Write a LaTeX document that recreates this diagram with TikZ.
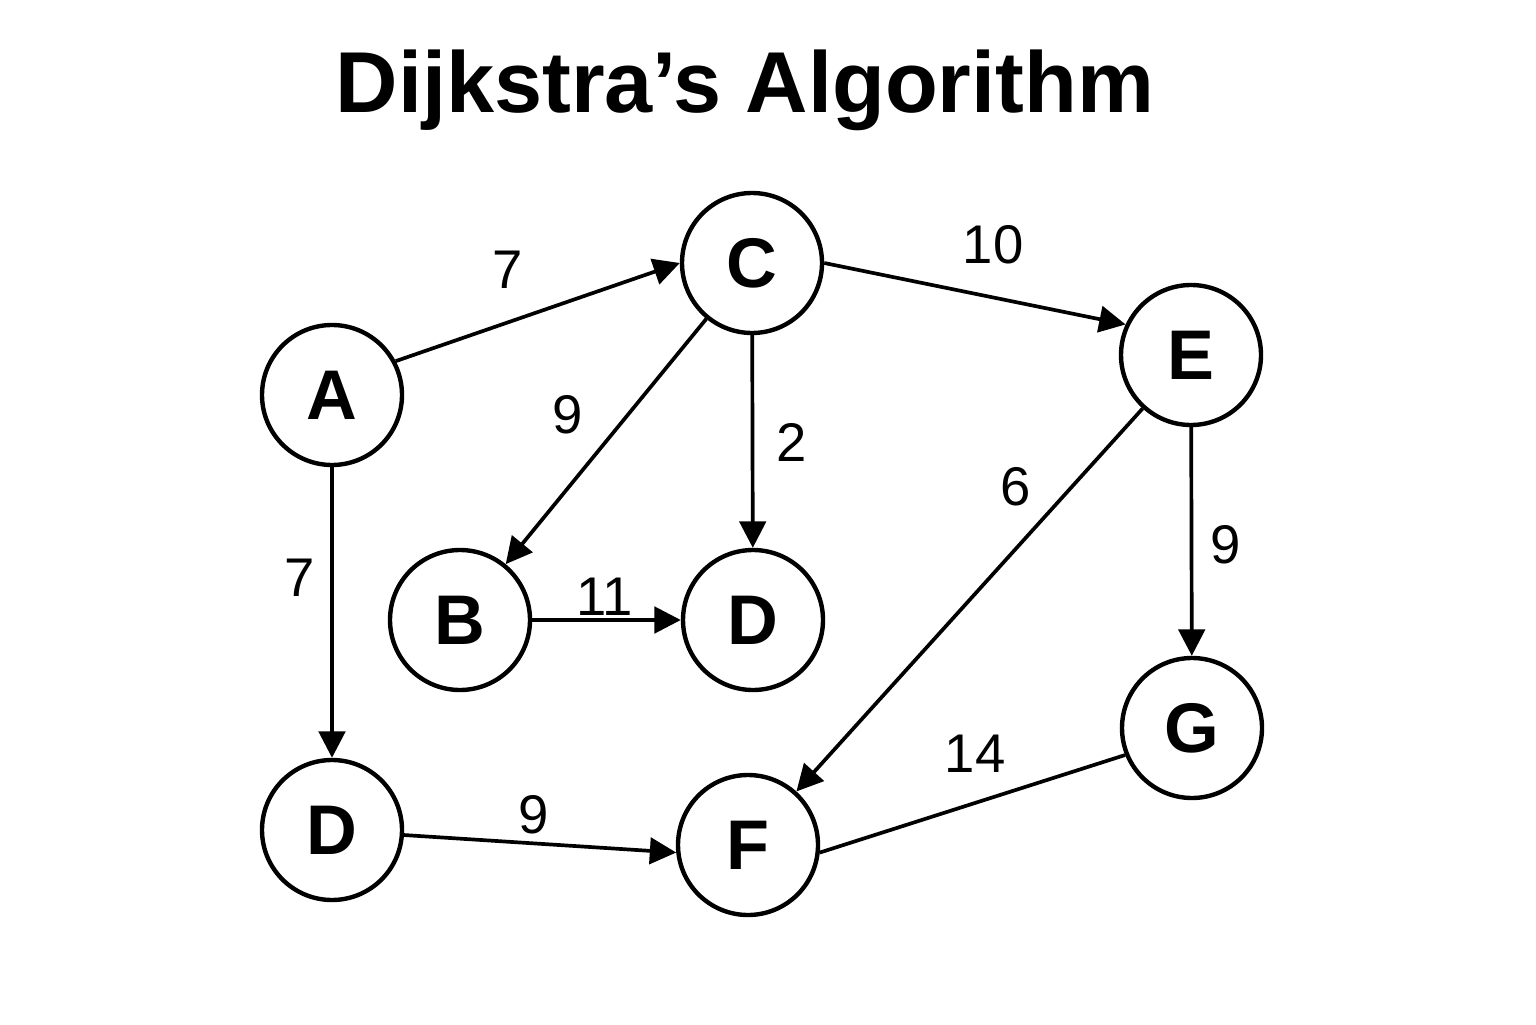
\documentclass[tikz,border=0pt]{standalone}
\usepackage{fontspec}
\setmainfont{Liberation Sans}
\usetikzlibrary{arrows.meta}

\begin{document}
\begin{tikzpicture}[>={Triangle[length=7.5pt,width=7.5pt]},vertex/.style={draw,circle,line width=1.25pt,minimum size=14cm/10,inner sep=0pt,font=\fontsize{20}{24}\selectfont\bfseries},weight/.style={font=\fontsize{15.5}{18}\selectfont},edge/.style={->,line width=1.05pt}]
\useasboundingbox (0,0) rectangle (15.36,10.24);
\node[anchor=base,font=\fontsize{24.6}{30}\selectfont\bfseries] (title) at (7.45,9.11) {Dijkstra’s Algorithm};
\node[vertex] (A) at (3.32,6.29) {A}; \node[vertex] (C) at (7.52,7.61) {C}; \node[vertex] (E) at (11.91,6.69) {E};
\node[vertex] (B) at (4.60,4.04) {B}; \node[vertex] (Dm) at (7.53,4.04) {D};
\node[vertex] (Dl) at (3.32,1.94) {D}; \node[vertex] (F) at (7.48,1.79) {F}; \node[vertex] (G) at (11.92,2.96) {G};
\draw[edge] (A.28) -- (C.west); \draw[edge] (C.east) -- (E.155); \draw[edge] (C) -- (B); \draw[edge] (C) -- (Dm);
\draw[edge] (A) -- (Dl); \draw[edge] (B) -- (Dm); \draw[edge] (E) -- (F); \draw[edge] (E) -- (G);
\draw[edge] (Dl.-4) -- (F.186); \draw[line width=1.05pt] (G.202) -- (F.-6);
\node[weight] (wAC) at (5.08,7.54) {7}; \node[weight] (wCE) at (9.93,7.79) {10}; \node[weight] (wCB) at (5.68,6.09) {9}; \node[weight] (wCD) at (7.92,5.82) {2};
\node[weight] (wAD) at (3.00,4.46) {7}; \node[weight] (wBD) at (6.05,4.27) {11}; \node[weight] (wEF) at (10.16,5.37) {6}; \node[weight] (wEG) at (12.26,4.79) {9};
\node[weight] (wDF) at (5.34,2.09) {9}; \node[weight] (wGF) at (9.75,2.70) {14};
\end{tikzpicture}
\end{document}
